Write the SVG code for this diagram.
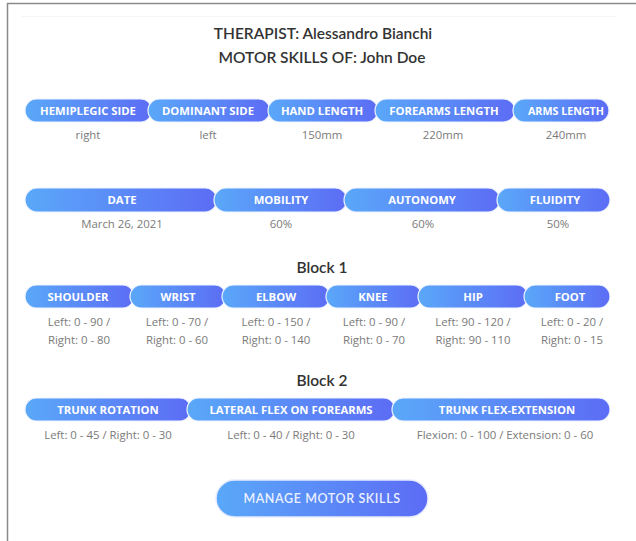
<svg xmlns="http://www.w3.org/2000/svg" width="636" height="541" viewBox="0 0 636 541">
<defs>
<linearGradient id="g" x1="0" y1="0" x2="1" y2="0">
<stop offset="0" stop-color="#5aa8f9"/>
<stop offset="1" stop-color="#5c6cf5"/>
</linearGradient>
<style>
.pill{fill:url(#g);stroke:#eef3ff;stroke-width:1.2}
.pt{font-family:"Open Sans","Noto Sans",sans-serif;font-weight:700;font-size:11.3px;fill:#ffffff;text-anchor:middle}
.val{font-family:"Open Sans","Noto Sans",sans-serif;font-size:11.4px;fill:#7a7a7a;text-anchor:middle}
.title{font-family:Lato,"Open Sans",sans-serif;font-weight:600;font-size:15.5px;fill:#333333;text-anchor:middle}
.btn{font-family:Lato,"Open Sans",sans-serif;font-weight:600;font-size:12.5px;fill:#eaf0ff;text-anchor:middle;letter-spacing:0.6px}
</style>
</defs>
<rect width="636" height="541" fill="#ffffff"/>
<g id="frame">
<line x1="7" y1="3.5" x2="636" y2="3.5" stroke="#8a8a8a" stroke-width="1.5"/>
<line x1="7.5" y1="3" x2="7.5" y2="541" stroke="#8a8a8a" stroke-width="1.5"/>
<line x1="22" y1="16.5" x2="617" y2="16.5" stroke="#f5f5f5" stroke-width="1"/>
</g>
<g id="header">
<text class="title" x="323" y="39">THERAPIST: Alessandro Bianchi</text>
<text class="title" x="322" y="63">MOTOR SKILLS OF: John Doe</text>
</g>
<g id="connectors"></g>
<g id="row1">
<g id="hemiplegic-side"><rect class="pill" x="25" y="99" width="127" height="23" rx="11.5"/><text class="pt" x="88" y="114.8">HEMIPLEGIC SIDE</text><text class="val" x="88" y="139">right</text></g>
<g id="dominant-side"><rect class="pill" x="148" y="99" width="122" height="23" rx="11.5"/><text class="pt" x="208" y="114.8">DOMINANT SIDE</text><text class="val" x="208" y="139">left</text></g>
<g id="hand-length"><rect class="pill" x="268" y="99" width="110" height="23" rx="11.5"/><text class="pt" x="322" y="114.8">HAND LENGTH</text><text class="val" x="322" y="139">150mm</text></g>
<g id="forearms-length"><rect class="pill" x="375" y="99" width="140" height="23" rx="11.5"/><text class="pt" x="444" y="114.8">FOREARMS LENGTH</text><text class="val" x="443" y="139">220mm</text></g>
<g id="arms-length"><rect class="pill" x="513" y="99" width="96" height="23" rx="11.5"/><text class="pt" x="566" y="114.8" textLength="76" lengthAdjust="spacingAndGlyphs">ARMS LENGTH</text><text class="val" x="566" y="139">240mm</text></g>
</g>
<g id="row2">
<g id="date"><rect class="pill" x="25" y="188" width="192" height="24" rx="12"/><text class="pt" x="122" y="204.3">DATE</text><text class="val" x="122" y="228">March 26, 2021</text></g>
<g id="mobility"><rect class="pill" x="214" y="188" width="133" height="24" rx="12"/><text class="pt" x="281" y="204.3">MOBILITY</text><text class="val" x="281" y="228">60%</text></g>
<g id="autonomy"><rect class="pill" x="344" y="188" width="156" height="24" rx="12"/><text class="pt" x="422" y="204.3">AUTONOMY</text><text class="val" x="423" y="228">60%</text></g>
<g id="fluidity"><rect class="pill" x="497" y="188" width="113" height="24" rx="12"/><text class="pt" x="555" y="204.3">FLUIDITY</text><text class="val" x="558" y="228">50%</text></g>
</g>
<g id="block1">
<text class="title" x="322" y="273">Block 1</text>
<g id="shoulder"><rect class="pill" x="25" y="285" width="109" height="23" rx="11.5"/><text class="pt" x="78" y="300.8">SHOULDER</text><text class="val" x="79" y="326">Left: 0 - 90 /</text><text class="val" x="79" y="344">Right: 0 - 80</text></g>
<g id="wrist"><rect class="pill" x="130" y="285" width="96" height="23" rx="11.5"/><text class="pt" x="178" y="300.8">WRIST</text><text class="val" x="177" y="326">Left: 0 - 70 /</text><text class="val" x="177" y="344">Right: 0 - 60</text></g>
<g id="elbow"><rect class="pill" x="222" y="285" width="108" height="23" rx="11.5"/><text class="pt" x="276" y="300.8">ELBOW</text><text class="val" x="276" y="326">Left: 0 - 150 /</text><text class="val" x="276" y="344">Right: 0 - 140</text></g>
<g id="knee"><rect class="pill" x="326" y="285" width="96" height="23" rx="11.5"/><text class="pt" x="373" y="300.8">KNEE</text><text class="val" x="374" y="326">Left: 0 - 90 /</text><text class="val" x="374" y="344">Right: 0 - 70</text></g>
<g id="hip"><rect class="pill" x="418" y="285" width="110" height="23" rx="11.5"/><text class="pt" x="473" y="300.8">HIP</text><text class="val" x="473" y="326">Left: 90 - 120 /</text><text class="val" x="473" y="344">Right: 90 - 110</text></g>
<g id="foot"><rect class="pill" x="524" y="285" width="86" height="23" rx="11.5"/><text class="pt" x="570" y="300.8">FOOT</text><text class="val" x="572" y="326">Left: 0 - 20 /</text><text class="val" x="572" y="344">Right: 0 - 15</text></g>
</g>
<g id="block2">
<text class="title" x="322" y="386">Block 2</text>
<g id="trunk-rotation"><rect class="pill" x="25" y="398" width="166" height="23" rx="11.5"/><text class="pt" x="108" y="413.8">TRUNK ROTATION</text><text class="val" x="108" y="439">Left: 0 - 45 / Right: 0 - 30</text></g>
<g id="lateral-flex"><rect class="pill" x="187" y="398" width="208" height="23" rx="11.5"/><text class="pt" x="291" y="413.8">LATERAL FLEX ON FOREARMS</text><text class="val" x="291" y="439">Left: 0 - 40 / Right: 0 - 30</text></g>
<g id="trunk-flex-extension"><rect class="pill" x="392" y="398" width="218" height="23" rx="11.5"/><text class="pt" x="507" y="413.8">TRUNK FLEX-EXTENSION</text><text class="val" x="505" y="439">Flexion: 0 - 100 / Extension: 0 - 60</text></g>
</g>
<g id="manage-button">
<rect x="216" y="480" width="212" height="37" rx="18.5" fill="url(#g)" stroke="#e6ecff" stroke-width="1.5"/>
<text class="btn" x="322" y="503">MANAGE MOTOR SKILLS</text>
</g>
</svg>
